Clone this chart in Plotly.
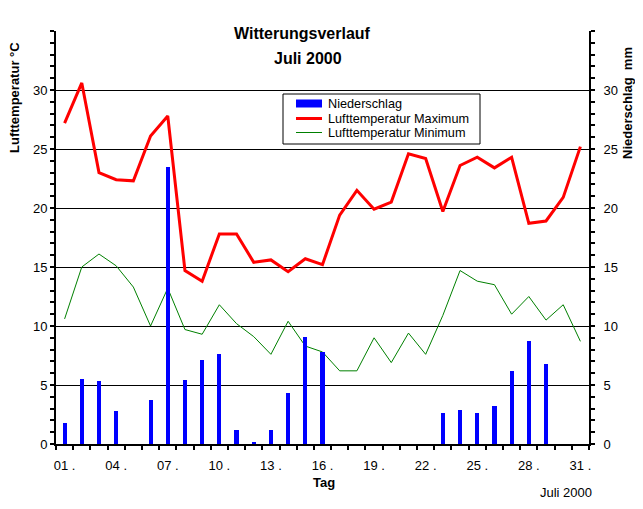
import plotly.graph_objects as go

# Juli 2000, Tageswerte
tage = list(range(1, 32))
tag_labels = ["01 .", "04 .", "07 .", "10 .", "13 .", "16 .", "19 .", "22 .", "25 .", "28 .", "31 ."]
tag_ticks = [1, 4, 7, 10, 13, 16, 19, 22, 25, 28, 31]

niederschlag = [1.8, 5.5, 5.3, 2.8, 0, 3.7, 23.5, 5.4, 7.1, 7.6, 1.2, 0.2, 1.2, 4.3, 9.1, 7.8,
                0, 0, 0, 0, 0, 0, 2.6, 2.9, 2.6, 3.2, 6.2, 8.7, 6.8, 0, 0]
t_max = [27.2, 30.6, 23.0, 22.4, 22.3, 26.1, 27.8, 14.7, 13.8, 17.8, 17.8, 15.4, 15.6, 14.6, 15.7, 15.2,
         19.4, 21.5, 19.9, 20.5, 24.6, 24.2, 19.7, 23.6, 24.3, 23.4, 24.3, 18.7, 18.9, 20.9, 25.2]
t_min = [10.6, 15.0, 16.1, 15.1, 13.3, 10.0, 13.2, 9.7, 9.3, 11.8, 10.2, 9.1, 7.6, 10.4, 8.3, 7.8,
         6.2, 6.2, 9.0, 6.9, 9.4, 7.6, 10.9, 14.7, 13.8, 13.5, 11.0, 12.5, 10.5, 11.8, 8.7]

# die Seite hat 8px Rand (body margin), daher etwas kleiner
OFF = 8
W, H = 635, 501
L, R, T, B = 48, 54, 23, 65

def px(x):
    # Seitenpixel -> paper
    return (x - OFF - L) / (W - L - R)

def py(y):
    return (H - B - (y - OFF)) / (H - B - T)

narrow = "Liberation Sans Narrow, Arial Narrow, Liberation Sans, Arial, sans-serif"
arial = "Liberation Sans, Arial, sans-serif"

fig = go.Figure()
fig.add_trace(go.Bar(x=tage, y=niederschlag, name="Niederschlag", marker_color="#0000FF",
                     marker_line_width=0, width=0.24, yaxis="y2"))
fig.add_trace(go.Scatter(x=tage, y=t_max, name="Lufttemperatur Maximum", mode="lines",
                         line=dict(color="#FF0000", width=3)))
fig.add_trace(go.Scatter(x=tage, y=t_min, name="Lufttemperatur Minimum", mode="lines",
                         line=dict(color="#008000", width=1)))

yticks = dict(range=[0, 35], tickvals=[0, 5, 10, 15, 20, 25, 30], ticks="outside", ticklen=4,
              tickwidth=2, tickcolor="black", showline=True, linecolor="black", linewidth=2,
              zeroline=False, tickfont=dict(family=narrow, size=13, color="black"),
              minor=dict(tickmode="array", tickvals=list(range(0, 36)), ticks="outside",
                         ticklen=4, tickwidth=2, tickcolor="black", showgrid=False))

fig.update_layout(
    width=W, height=H,
    margin=dict(l=L, r=R, t=T, b=B),
    paper_bgcolor="white", plot_bgcolor="white",
    showlegend=False,
    bargap=0,
    xaxis=dict(range=[0.5, 31.5], tickvals=tag_ticks, ticktext=tag_labels, ticks="",
               showline=True, linecolor="black", linewidth=2, showgrid=False, zeroline=False,
               tickfont=dict(family=narrow, size=13, color="black"), ticklabelstandoff=8,
               minor=dict(tickmode="array", tickvals=[d + 0.5 for d in range(0, 32)],
                          ticks="outside", ticklen=4, tickwidth=2, tickcolor="black", showgrid=False)),
    yaxis=dict(**yticks, showgrid=True, gridcolor="black", gridwidth=1),
    yaxis2=dict(**yticks, overlaying="y", side="right", showgrid=False, ticklabelstandoff=6),
)

# Titel und Achsenbeschriftungen
texts = [
    ("Witterungsverlauf", 302, 33.5, 16, True, 0, "center"),
    ("Juli 2000", 308, 58, 16, True, 0, "center"),
    ("Tag", 324, 482, 13, True, 0, "center"),
    ("Juli 2000", 594, 493, 13, False, 0, "right"),
    ("Lufttemperatur °C", 14, 98, 13, True, -90, "center"),
    ("Niederschlag  mm", 627, 103, 13, True, -90, "center"),
]
for txt, x, y, size, bold, ang, anchor in texts:
    fig.add_annotation(text=f"<b>{txt}</b>" if bold else txt, xref="paper", yref="paper",
                       x=px(x), y=py(y), xanchor=anchor, yanchor="middle", showarrow=False,
                       textangle=ang, font=dict(family=arial if bold else narrow, size=size, color="black"))

# Legende
fig.add_shape(type="rect", xref="paper", yref="paper", x0=px(283), x1=px(480), y0=py(94), y1=py(144),
              line=dict(color="black", width=1), fillcolor="white", layer="above")
fig.add_shape(type="rect", xref="paper", yref="paper", x0=px(296), x1=px(322), y0=py(99.5), y1=py(107.5),
              line=dict(width=0), fillcolor="#0000FF", layer="above")
fig.add_shape(type="line", xref="paper", yref="paper", x0=px(296), x1=px(322), y0=py(118.5), y1=py(118.5),
              line=dict(color="#FF0000", width=3), layer="above")
fig.add_shape(type="line", xref="paper", yref="paper", x0=px(296), x1=px(322), y0=py(132.5), y1=py(132.5),
              line=dict(color="#008000", width=1), layer="above")
for name, y in [("Niederschlag", 104), ("Lufttemperatur Maximum", 118.5), ("Lufttemperatur Minimum", 132.5)]:
    fig.add_annotation(text=name, xref="paper", yref="paper", x=px(326), y=py(y), xanchor="left",
                       yanchor="middle", showarrow=False, font=dict(family=arial, size=12.7, color="black"))

fig.write_html("out.html")
